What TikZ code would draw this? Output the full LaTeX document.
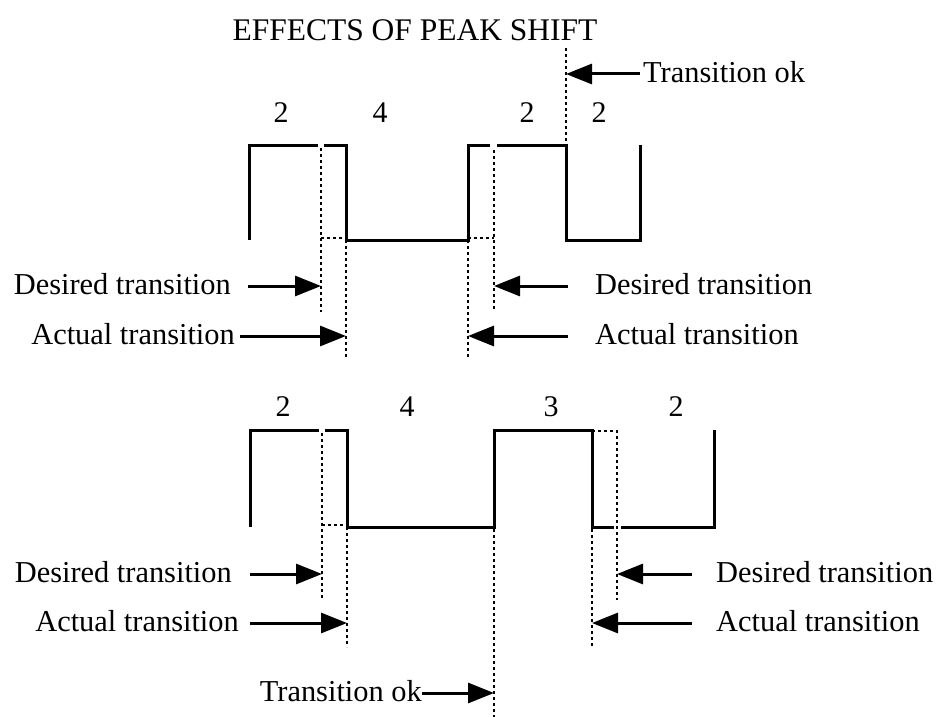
\documentclass[tikz,border=0pt]{standalone}
\usepackage{fontspec}
\setmainfont{Liberation Serif}
\usetikzlibrary{arrows.meta}
\begin{document}
\begin{tikzpicture}[x=1pt,y=-1pt,
  wave/.style={line width=3pt,line join=miter,line cap=butt},
  dots/.style={line width=2pt,dash pattern=on 3pt off 3pt},
  arr/.style={line width=3pt,-{Triangle[length=26pt,width=20pt]}},
  lbl/.style={inner sep=0pt,font=\fontsize{30.4}{36}\selectfont},
  num/.style={inner sep=0pt,font=\fontsize{30}{36}\selectfont}]
\useasboundingbox (0,0) rectangle (940,717);

% title
\node[inner sep=0pt,font=\fontsize{31.5}{38}\selectfont] (title) at (415,30) {EFFECTS OF PEAK SHIFT};

% ---------- top waveform ----------
\draw[wave] (249,240) -- (249,145) -- (318,145);
\draw[wave] (324,145) -- (346,145) -- (346,240) -- (468,240) -- (468,145) -- (490,145);
\draw[wave] (497,145) -- (566,145) -- (566,240) -- (640,240) -- (640,145);

\node[num] (n1) at (281,113) {2};
\node[num] (n2) at (380,113) {4};
\node[num] (n3) at (527,113) {2};
\node[num] (n4) at (599,113) {2};

% dotted lines top
\coordinate (d1t) at (321,148);
\coordinate (d1b) at (321,312);
\coordinate (a1t) at (346,240);
\coordinate (a1b) at (346,358);
\coordinate (a2t) at (468,240);
\coordinate (a2b) at (468,358);
\coordinate (d2t) at (494,150);
\coordinate (d2b) at (494,310);
\coordinate (o1t) at (566,48);
\coordinate (o1b) at (566,143);
\draw[dots] (d1t) -- (d1b);
\draw[dots] (321,238) -- (346,238);
\draw[dots] (a1t) -- (a1b);
\draw[dots] (a2t) -- (a2b);
\draw[dots] (468,238) -- (494,238);
\draw[dots] (d2t) -- (d2b);
\draw[dots] (o1t) -- (o1b);

\coordinate (tD1) at (321,286);
\coordinate (tA1) at (346,336);
\coordinate (tD2) at (494,286);
\coordinate (tA2) at (468,336);
\coordinate (tO1) at (566,74);

\node[lbl,anchor=base east] (dl1) at (231,294) {Desired transition};
\node[lbl,anchor=base east] (al1) at (235,344) {Actual transition};
\node[lbl,anchor=base west] (dr1) at (595,294) {Desired transition};
\node[lbl,anchor=base west] (ar1) at (595,344) {Actual transition};
\node[lbl,anchor=base west] (ok1) at (643,82) {Transition ok};

\draw[arr] ([xshift=17pt]dl1.east |- tD1) -- (tD1);
\draw[arr] ([xshift=5pt]al1.east |- tA1) -- (tA1);
\draw[arr] ([xshift=-27pt]dr1.west |- tD2) -- (tD2);
\draw[arr] ([xshift=-27pt]ar1.west |- tA2) -- (tA2);
\draw[arr] ([xshift=-3pt]ok1.west |- tO1) -- (tO1);

% ---------- bottom waveform ----------
\draw[wave] (250,527) -- (250,430) -- (319,430);
\draw[wave] (325,430) -- (347,430) -- (347,527) -- (494,527) -- (494,430) -- (592,430) -- (592,527) -- (614,527);
\draw[wave] (621,527) -- (714,527) -- (714,430);

\node[num] (m1) at (283,407) {2};
\node[num] (m2) at (407,407) {4};
\node[num] (m3) at (551,407) {3};
\node[num] (m4) at (676,407) {2};

\coordinate (d3t) at (322,433);
\coordinate (d3b) at (322,600);
\coordinate (a3t) at (347,527);
\coordinate (a3b) at (347,647);
\coordinate (o2t) at (494,529);
\coordinate (o2b) at (494,717);
\coordinate (a4t) at (592,529);
\coordinate (a4b) at (592,647);
\coordinate (d4t) at (617,430);
\coordinate (d4b) at (617,600);
\draw[dots] (d3t) -- (d3b);
\draw[dots] (322,525) -- (347,525);
\draw[dots] (a3t) -- (a3b);
\draw[dots] (o2t) -- (o2b);
\draw[dots] (a4t) -- (a4b);
\draw[dots] (592,431) -- (617,431);
\draw[dots] (d4t) -- (d4b);

\coordinate (tD3) at (322,574);
\coordinate (tA3) at (347,623);
\coordinate (tD4) at (617,574);
\coordinate (tA4) at (592,623);
\coordinate (tO2) at (494,693);

\node[lbl,anchor=base east] (dl2) at (232,582) {Desired transition};
\node[lbl,anchor=base east] (al2) at (239,631) {Actual transition};
\node[lbl,anchor=base west] (dr2) at (716,582) {Desired transition};
\node[lbl,anchor=base west] (ar2) at (716,631) {Actual transition};
\node[lbl,anchor=base east] (ok2) at (422,701) {Transition ok};

\draw[arr] ([xshift=18pt]dl2.east |- tD3) -- (tD3);
\draw[arr] ([xshift=11pt]al2.east |- tA3) -- (tA3);
\draw[arr] ([xshift=-24pt]dr2.west |- tD4) -- (tD4);
\draw[arr] ([xshift=-24pt]ar2.west |- tA4) -- (tA4);
\draw[arr] (ok2.east |- tO2) -- (tO2);
\end{tikzpicture}
\end{document}
